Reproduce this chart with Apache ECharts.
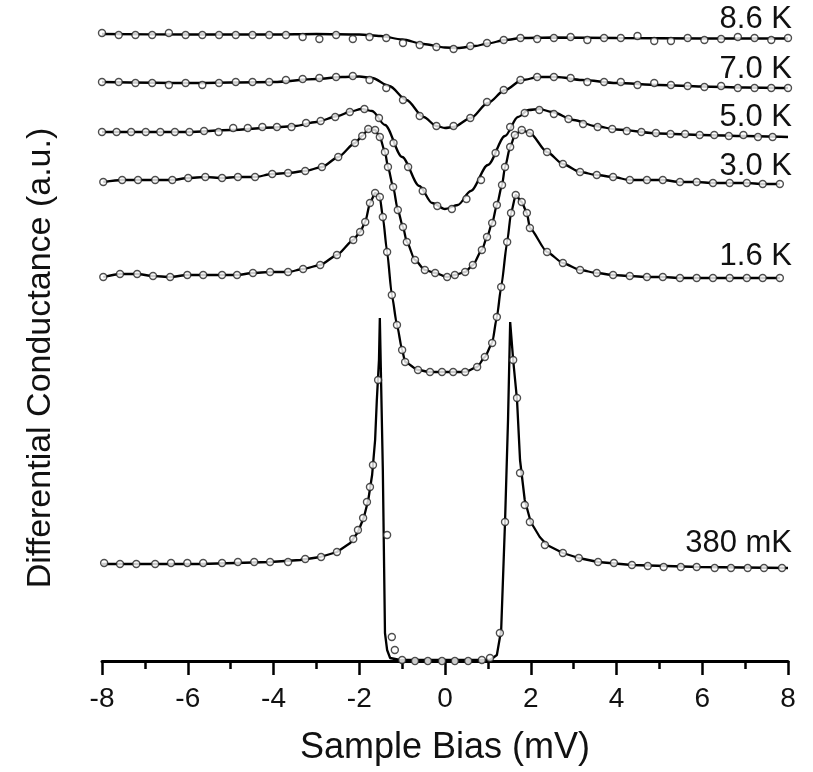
<!DOCTYPE html>
<html><head><meta charset="utf-8">
<script src="https://cdn.jsdelivr.net/npm/echarts@6/dist/echarts.min.js"></script>
<style>html,body{margin:0;padding:0;background:#fff}#c{width:813px;height:772px}</style>
</head><body><div id="c"></div>
<script>
// ---------- data (x = sample bias in mV, y = differential conductance, a.u., curves offset) ----------
const xTickValues = [-8, -6, -4, -2, 0, 2, 4, 6, 8];

// shared sampling used for the 8.6 K and 7.0 K data
const xA = [-8.00,-7.61,-7.22,-6.83,-6.44,-6.05,-5.66,-5.27,-4.88,-4.49,-4.10,-3.71,-3.32,-2.93,-2.54,-2.15,-1.76,-1.37,-0.98,-0.59,-0.20,0.20,0.59,0.98,1.37,1.76,2.15,2.54,2.93,3.32,3.71,4.10,4.49,4.88,5.27,5.66,6.05,6.44,6.83,7.22,7.61,8.00];

// 8.6 K
const y86 = [6.27,6.25,6.25,6.25,6.27,6.25,6.25,6.25,6.25,6.25,6.25,6.25,6.23,6.21,6.25,6.21,6.23,6.22,6.17,6.15,6.13,6.11,6.14,6.17,6.20,6.22,6.21,6.22,6.23,6.20,6.22,6.22,6.24,6.19,6.19,6.22,6.20,6.21,6.23,6.22,6.20,6.22];
const fitX86 = [-8,-6,-4,-3,-2,-1.5,-1,-0.5,0,0.3,0.7,1.0,1.4,1.8,2.5,4,6,8];
const fitY86 = [6.26,6.255,6.255,6.26,6.255,6.24,6.205,6.16,6.125,6.12,6.14,6.165,6.20,6.22,6.225,6.22,6.215,6.215];

// 7.0 K
const y70 = [5.78,5.78,5.77,5.77,5.75,5.77,5.75,5.77,5.78,5.78,5.78,5.80,5.81,5.82,5.83,5.84,5.80,5.72,5.60,5.44,5.34,5.34,5.42,5.58,5.70,5.80,5.83,5.83,5.82,5.78,5.78,5.78,5.75,5.77,5.75,5.74,5.73,5.74,5.72,5.72,5.72,5.72];
const fitX70 = [-8,-6,-4,-3,-2.4,-2,-1.7,-1.3,-0.9,-0.5,-0.2,0,0.2,0.6,1.0,1.4,1.8,2.2,2.6,3.2,4,5,6,7,8];
const fitY70 = [5.78,5.77,5.78,5.81,5.83,5.835,5.82,5.74,5.60,5.43,5.34,5.32,5.33,5.42,5.57,5.70,5.80,5.83,5.83,5.80,5.77,5.75,5.735,5.725,5.72];

// 5.0 K
const x50 = [-8.00,-7.66,-7.32,-6.98,-6.64,-6.30,-5.96,-5.62,-5.28,-4.94,-4.60,-4.26,-3.92,-3.58,-3.24,-2.90,-2.56,-2.22,-1.88,-1.54,-1.20,-0.86,-0.52,-0.18,0.16,0.50,0.84,1.18,1.52,1.86,2.20,2.54,2.88,3.22,3.56,3.90,4.24,4.58,4.92,5.26,5.60,5.94,6.28,6.62,6.96,7.30,7.64];
const y50 = [5.28,5.28,5.28,5.28,5.28,5.28,5.28,5.29,5.28,5.32,5.32,5.33,5.33,5.33,5.37,5.39,5.43,5.48,5.51,5.42,5.17,4.93,4.69,4.54,4.51,4.61,4.80,5.07,5.33,5.47,5.50,5.46,5.41,5.36,5.33,5.31,5.29,5.28,5.27,5.26,5.26,5.25,5.25,5.24,5.25,5.23,5.23];
const fitX50 = [-8,-6,-5,-4,-3.5,-3,-2.5,-2.2,-1.95,-1.7,-1.4,-1.0,-0.6,-0.3,0,0.3,0.6,1.0,1.4,1.7,1.95,2.2,2.5,3,3.5,4,5,6,7,8];
const fitY50 = [5.28,5.28,5.30,5.325,5.34,5.38,5.44,5.485,5.51,5.49,5.35,5.03,4.74,4.57,4.51,4.55,4.69,4.95,5.24,5.43,5.50,5.51,5.48,5.40,5.34,5.305,5.265,5.25,5.24,5.23];

// 3.0 K
const x30 = [-7.97,-7.53,-7.16,-6.76,-6.36,-5.99,-5.59,-5.20,-4.83,-4.43,-4.03,-3.66,-3.26,-2.87,-2.49,-2.10,-1.93,-1.79,-1.63,-1.52,-1.40,-1.33,-1.21,-1.10,-0.98,-0.89,-0.70,-0.47,-0.23,0.05,0.23,0.47,0.65,0.86,0.98,1.10,1.21,1.33,1.40,1.52,1.63,1.79,1.98,2.38,2.75,3.15,3.54,3.92,4.31,4.71,5.08,5.48,5.87,6.25,6.64,7.04,7.41,7.81];
const y30 = [4.78,4.80,4.80,4.80,4.80,4.82,4.83,4.82,4.83,4.83,4.86,4.87,4.89,4.93,5.03,5.17,5.24,5.31,5.30,5.23,5.08,4.93,4.73,4.50,4.33,4.18,4.00,3.90,3.87,3.83,3.85,3.88,3.95,4.10,4.23,4.37,4.55,4.75,4.93,5.13,5.25,5.30,5.27,5.08,4.96,4.88,4.85,4.83,4.80,4.80,4.80,4.78,4.78,4.77,4.77,4.77,4.76,4.76];

// 1.6 K
const x16 = [-7.97,-7.58,-7.18,-6.81,-6.41,-6.01,-5.64,-5.20,-4.85,-4.48,-4.08,-3.66,-3.31,-2.91,-2.52,-2.14,-1.98,-1.86,-1.75,-1.63,-1.52,-1.45,-1.35,-1.24,-1.12,-1.00,-0.93,-0.63,-0.35,-0.07,0.19,0.47,0.75,0.93,1.10,1.21,1.31,1.45,1.54,1.65,1.79,1.91,1.98,2.38,2.75,3.15,3.54,3.92,4.31,4.71,5.08,5.48,5.87,6.25,6.64,7.04,7.41,7.81];
const y16 = [3.83,3.86,3.86,3.84,3.83,3.85,3.85,3.85,3.85,3.87,3.88,3.88,3.91,3.95,4.05,4.20,4.28,4.38,4.57,4.67,4.63,4.43,4.08,3.65,3.35,3.10,2.98,2.90,2.88,2.88,2.88,2.88,2.93,3.03,3.17,3.43,3.73,4.18,4.47,4.65,4.58,4.47,4.32,4.08,3.97,3.90,3.87,3.85,3.84,3.83,3.83,3.82,3.82,3.82,3.82,3.82,3.82,3.82];

// 380 mK
const x038 = [-7.95,-7.58,-7.20,-6.76,-6.39,-6.01,-5.64,-5.20,-4.83,-4.45,-4.08,-3.66,-3.26,-2.89,-2.52,-2.14,-2.03,-1.91,-1.82,-1.75,-1.68,-1.56,-1.35,-1.24,-1.17,-1.00,-0.70,-0.40,-0.07,0.23,0.54,0.86,1.05,1.28,1.40,1.59,1.68,1.75,1.86,1.98,2.33,2.75,3.12,3.57,3.94,4.36,4.73,5.10,5.50,5.87,6.29,6.67,7.06,7.44,7.86];
const y038 = [0.97,0.96,0.96,0.96,0.97,0.97,0.97,0.97,0.98,0.98,0.98,0.98,1.01,1.03,1.08,1.21,1.30,1.42,1.58,1.73,1.95,2.80,1.25,0.23,0.10,0.00,-0.01,-0.01,-0.01,-0.01,-0.01,0.00,0.02,0.27,1.38,3.00,2.62,1.87,1.55,1.38,1.15,1.07,1.02,0.98,0.97,0.95,0.94,0.93,0.93,0.93,0.92,0.92,0.92,0.92,0.92];
const fitX038 = [-8.0,-5.71,-4.08,-3.38,-2.91,-2.52,-2.21,-2.03,-1.89,-1.79,-1.70,-1.63,-1.59,-1.54,-1.52,-1.45,-1.40,-1.35,-1.28,-1.05,0,1.05,1.21,1.31,1.40,1.47,1.52,1.59,1.68,1.75,1.86,2.00,2.21,2.38,2.75,3.12,3.57,4.36,5.94,8.0];
const fitY038 = [0.96,0.96,0.98,1.00,1.03,1.08,1.17,1.28,1.43,1.60,1.85,2.20,2.60,3.00,3.42,1.90,0.27,0.10,0.02,0.00,0.00,0.00,0.05,0.30,1.38,2.40,3.38,3.00,2.60,2.00,1.60,1.38,1.23,1.15,1.07,1.02,0.98,0.95,0.93,0.92];

const curveNames = ['8.6 K', '7.0 K', '5.0 K', '3.0 K', '1.6 K', '380 mK'];

// ---------- chart ----------
function pairs(xs, ys) { return xs.map((x, i) => [x, ys[i]]); }

const curves = [
  { name: curveNames[0], cx: xA,   cy: y86,  fx: fitX86,  fy: fitY86,  smooth: 0.3 },
  { name: curveNames[1], cx: xA,   cy: y70,  fx: fitX70,  fy: fitY70,  smooth: 0.3 },
  { name: curveNames[2], cx: x50,  cy: y50,  fx: fitX50,  fy: fitY50,  smooth: 0.3 },
  { name: curveNames[3], cx: x30,  cy: y30,  fx: x30,     fy: y30,     smooth: 0.25 },
  { name: curveNames[4], cx: x16,  cy: y16,  fx: x16,     fy: y16,     smooth: 0.2 },
  { name: curveNames[5], cx: x038, cy: y038, fx: fitX038, fy: fitY038, smooth: false }
];
const labelY = [19, 69, 117, 166, 256, 543];

const FONT = 'Liberation Sans';
const series = [];
curves.forEach(c => {
  series.push({
    type: 'line', name: c.name + ' fit', data: pairs(c.fx, c.fy),
    showSymbol: false, smooth: c.smooth, smoothMonotone: 'x', clip: false, silent: true,
    lineStyle: { color: '#000', width: 2.3 }, z: 2
  });
  series.push({
    type: 'scatter', name: c.name, data: pairs(c.cx, c.cy),
    symbol: 'circle', symbolSize: 7, clip: false, silent: true,
    itemStyle: { color: '#fff', borderColor: '#222', borderWidth: 1.4 }, z: 3
  });
});

const graphics = curves.map((c, i) => ({
  type: 'text', x: 792, y: labelY[i], silent: true,
  style: { text: c.name, fontSize: 31, fontFamily: FONT, fill: '#111', align: 'right', verticalAlign: 'middle' }
}));
graphics.push({
  type: 'text', x: 41, y: 358, rotation: Math.PI / 2, silent: true,
  style: { text: 'Differential Conductance (a.u.)', fontSize: 34, fontFamily: FONT, fill: '#111', align: 'center', verticalAlign: 'middle' }
});

const chart = echarts.init(document.getElementById('c'));
chart.setOption({
  animation: false,
  backgroundColor: '#fff',
  grid: { left: 102, right: 25, top: 0, bottom: 111 },
  xAxis: {
    type: 'value', min: xTickValues[0], max: xTickValues[xTickValues.length - 1], interval: 2,
    axisLine: { onZero: false, lineStyle: { color: '#000', width: 3 } },
    axisTick: { length: 14, lineStyle: { color: '#000', width: 2.5 } },
    minorTick: { show: true, splitNumber: 2, length: 8, lineStyle: { color: '#000', width: 2.5 } },
    splitLine: { show: false },
    axisLabel: { fontFamily: FONT, fontSize: 28, color: '#111', margin: 24 },
    name: 'Sample Bias (mV)', nameLocation: 'middle', nameGap: 69,
    nameTextStyle: { fontFamily: FONT, fontSize: 36, color: '#111' }
  },
  yAxis: {
    type: 'value', min: -0.01, max: 6.6, show: false
  },
  series: series,
  graphic: graphics
});
</script>
</body></html>
